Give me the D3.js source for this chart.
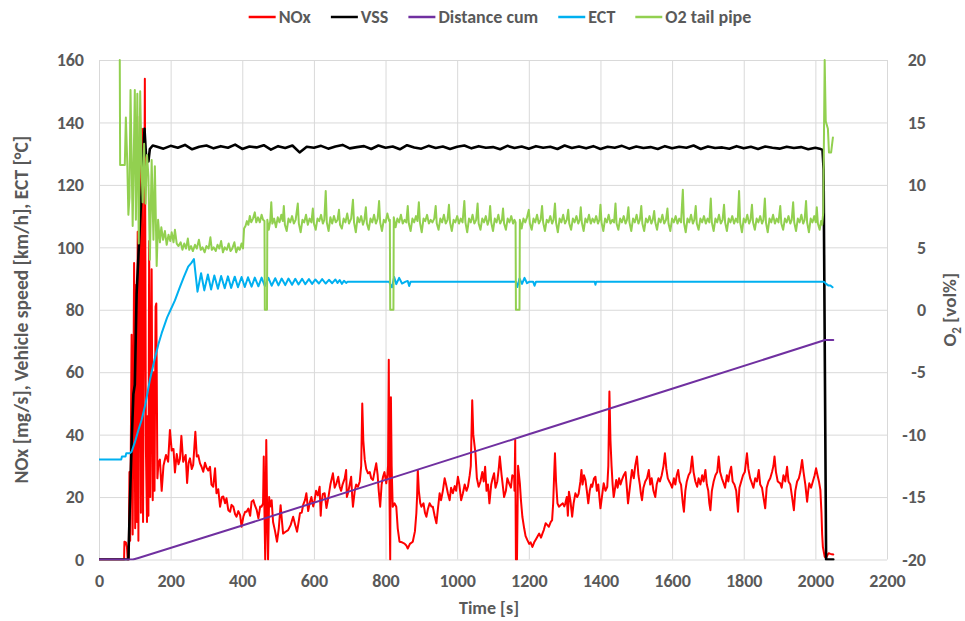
<!DOCTYPE html>
<html>
<head>
<meta charset="utf-8">
<script src="https://cdn.jsdelivr.net/npm/d3@7"></script>
<style>
  body { margin: 0; background: #fff; }
  svg text { font-family: Carlito, Lato, "Liberation Sans", sans-serif; fill: #595959; }
  .tick text { font-weight: bold; font-size: 18px; }
  .grid line { stroke: #d9d9d9; stroke-width: 1; }
  .grid .domain { display: none; }
  .series { fill: none; stroke-linejoin: round; stroke-linecap: round; }
</style>
</head>
<body>
<div id="chart"></div>
<script>
`use strict`;

// tick labels
const xTicks = [0, 200, 400, 600, 800, 1000, 1200, 1400, 1600, 1800, 2000, 2200];
const leftTicks = [0, 20, 40, 60, 80, 100, 120, 140, 160];
const rightTicks = [-20, -15, -10, -5, 0, 5, 10, 15, 20];

// series names / colours (legend order)
const seriesNames = ['NOx', 'VSS', 'Distance cum', 'ECT', 'O2 tail pipe'];
const seriesColors = ['#ff0000', '#000000', '#7030a0', '#00b0f0', '#92d050'];

// NOx [mg/s]  -- [time s, value]
const nox = [
  [0,0],[70,0],[71,5.7],[75,5.5],[78,4],[80,0],[83,0],
  [85,28],[87,6],[91,72],[94,8],[98,95],[101,10],[104,88],[106,12],[108,105],[110,6],[114,142],[117,15],[120,138],[123,12],[128,154],[131,35],[134,12],[136,46],[138,14],[140,102],[143,20],[147,93],[150,19],[153,60],[155,22],[158,81],[160,82],[163,26],[166,31],
  [170,32],[175,22],[180,30],[187,33.5],[193,31.3],[198,41.5],[203,34.9],[208,35.4],[212,27.9],[217,33.8],[222,30.5],[226,32.2],[230,39.6],[235,31.3],[242,33.5],[246,24.5],[250,31],[254,32.4],[259,29],[263,30.3],[269,40.9],[273,33],[277,33.4],[282,30.8],[286,29.8],[291,28.1],[296,31],[300,29.5],[305,28.5],[310,29.7],[314,24],[319,23.3],[324,29.2],[328,21.2],[333,22.5],[338,16.9],[343,20],[347,20.2],[352,18],[356,19.6],[361,15.8],[366,15.3],[370,17.5],[375,16.9],[380,14.5],[384,13.7],[389,15.5],[394,14.2],[398,10.5],[403,13.7],[408,15.3],[412,15.3],[417,16.3],[422,14],[426,18.5],[431,19],[435,17.4],[440,16],[445,13.2],[450,17],[454,16.9],[458,18],[460,33],[462,15],[464,0],[467,38.3],[470,10],[472,0],[475,20],[478,17],[482,19],[486,12],[491,9.4],[497,5.7],[502,10],[507,17.4],[511,12],[514,8.3],[520,8.8],[528,9.4],[535,11],[542,13.7],[548,11],[553,8.9],[558,12.5],[561,14.8],[566,15],[570,17.5],[575,19],[579,21.2],[584,15.5],[588,18],[593,20],[598,17],[602,19],[606,22],[611,20.5],[616,23.3],[619,14],[621,18],[625,21],[630,21.2],[635,16.5],[640,19.6],[646,24],[650,26],[653,27.6],[658,23],[663,24.4],[668,26.5],[672,23.3],[676,22],[680,24],[686,26],[690,28.7],[692,20],[695,21.2],[700,24],[704,26.5],[707,20],[709,16.9],[714,22],[718,24],[723,23.3],[728,25],[732,30],[735,50],[738,38],[742,31.9],[746,29],[751,27.6],[756,28],[760,26],[765,25.5],[769,28],[774,30.8],[778,27],[781,22],[785,16.9],[789,24],[793,26.5],[797,28],[802,24.4],[805,27],[807,30],[809,64],[811,20],[813,0],[815,52],[817,30],[820,16.9],[825,18],[830,16.9],[834,10],[839,5.7],[846,5.5],[853,5.1],[858,4.5],[862,3.5],[868,5],[876,5.7],[882,9],[886,14.8],[888,20],[890,28.7],[893,22],[897,18],[900,16.9],[906,18],[910,15],[914,13.7],[918,16],[923,18],[928,17],[932,16.9],[937,14],[942,11.6],[946,16],[951,21.2],[955,19],[960,22],[965,26],[969,24],[974,21.2],[979,19],[983,23],[988,21.2],[993,23.5],[997,22],[1002,26.5],[1006,24],[1011,19],[1016,21.2],[1021,24],[1026,22],[1030,23.3],[1035,27],[1038,30],[1042,51],[1045,40],[1051,34],[1055,26],[1060,23.3],[1065,25],[1070,28],[1074,25],[1078,29.7],[1082,22],[1086,24],[1090,18],[1095,24],[1099,26],[1103,27.6],[1107,23],[1112,25],[1116,29],[1119,33],[1124,27],[1128,23],[1131,20],[1136,22],[1140,26],[1145,24.4],[1150,23],[1154,27],[1159,26.5],[1160,22],[1162,38.3],[1164,0],[1167,0],[1170,30],[1175,24.4],[1178,19],[1182,13.7],[1187,10],[1191,7.5],[1196,6.2],[1201,5],[1205,5.5],[1210,4],[1215,5.5],[1220,6.5],[1225,7.5],[1229,8.3],[1234,7],[1238,8.3],[1242,9.5],[1247,11.6],[1252,11],[1256,10.5],[1261,12],[1265,12.6],[1268,18],[1271,28],[1273,34],[1276,25],[1280,18],[1284,16.9],[1290,17.5],[1295,18],[1299,17],[1302,18],[1306,20],[1309,14],[1312,21.7],[1316,19],[1321,13.7],[1325,18],[1330,21.2],[1335,20],[1339,21],[1344,25],[1347,28.7],[1350,24],[1354,27],[1358,25.5],[1362,22],[1366,18],[1370,22],[1374,24],[1377,23.3],[1382,26],[1386,26.5],[1390,22],[1394,24],[1397,20],[1400,16.4],[1404,20],[1409,24.4],[1414,22],[1419,23.3],[1422,30],[1425,53.8],[1428,38],[1431,30],[1434,24],[1437,20],[1441,23],[1444,25.5],[1448,23],[1452,26],[1456,24],[1460,25.5],[1465,27],[1470,28],[1473,24],[1477,18],[1481,22],[1485,26],[1488,28.7],[1493,26],[1497,30],[1502,33],[1506,27],[1510,24],[1513,21],[1516,19],[1520,23],[1525,25],[1530,26],[1535,28.7],[1539,24],[1543,26],[1548,22],[1553,20],[1557,24],[1562,26],[1566,25],[1571,27],[1576,30],[1580,34],[1584,29],[1588,26],[1592,25],[1595,24.4],[1600,23],[1605,26],[1609,24],[1613,27],[1617,28.7],[1621,25],[1625,24],[1630,18],[1633,15.3],[1637,22],[1641,25],[1646,27],[1651,28],[1656,33],[1660,28],[1665,25],[1670,23.3],[1674,26],[1679,24],[1684,27],[1688,25],[1693,28.7],[1697,24],[1701,22],[1704,18],[1707,15.8],[1711,22],[1716,25],[1721,27],[1726,28],[1730,33],[1734,28],[1739,26],[1744,24.4],[1748,23],[1753,27],[1757,25],[1761,28],[1765,29.7],[1769,25],[1774,24],[1779,22],[1782,18],[1784,15.3],[1788,23],[1793,25],[1798,27],[1803,28],[1809,34],[1813,29],[1818,26],[1823,24.4],[1827,23],[1832,26],[1837,25],[1842,28.7],[1846,24],[1851,23],[1855,20],[1860,16.4],[1864,23],[1869,25],[1874,26],[1879,28],[1883,30],[1886,33],[1890,28],[1895,25],[1902,24.4],[1906,23],[1911,27],[1916,25],[1921,29.7],[1925,25],[1930,24],[1935,20],[1940,15.8],[1944,22],[1949,25],[1954,26],[1958,28],[1963,31.9],[1967,28],[1972,24],[1977,18.5],[1980,22],[1983,24.4],[1988,23],[1993,25],[1998,27],[2002,29.2],[2006,27],[2010,25],[2014,22.3],[2017,15],[2019,8],[2021,4],[2026,0.9],[2030,0.5],[2034,1.5],[2037,2],[2042,1.8],[2046,1.7],[2050,1.6]
];

// VSS [km/h] -- ramp up, cruise (sampled every 20 s from 160 s), stop
const vssRamp = [[0,0],[82,0],[87,21],[91,37],[96,53],[100,56],[105,85],[112,102],[122,125],[127,138],[131,130],[138,127.5],[142,131.5],[150,132.6]];
const vssCruiseStart = 160, vssCruiseStep = 20;
const vssCruise = [
  132.3,131.6,132.5,131.9,132.8,131.4,132.2,132.6,131.7,132.4,
  131.9,132.9,131.5,132.3,132.0,132.7,131.3,132.4,131.8,132.6,
  130.4,132.2,131.9,132.5,131.6,132.3,132.8,131.7,132.1,132.4,
  131.5,132.6,131.9,132.3,131.4,132.7,132.0,131.6,132.5,131.8,
  132.3,131.5,132.2,132.6,131.7,132.4,131.9,132.1,131.4,132.5,
  131.8,132.3,131.6,132.4,131.9,132.2,131.5,132.6,131.8,132.3,
  131.7,132.4,131.5,132.2,131.9,132.5,131.6,132.3,131.8,132.1,
  131.5,132.4,131.7,132.2,131.9,132.6,131.5,132.3,131.8,132.0,
  131.6,132.4,131.7,132.2,131.5,132.3,131.9,131.6,132.2,131.8,
  132.1,131.4,131.9
];
const vssStop = [[2012,131.6],[2020,131.2],[2023,125],[2030,0],[2050,0]];

// Distance cum (plotted on left axis)
const dist = [[0,0],[95,0],[110,0.5],[400,10.9],[800,25.5],[1200,40.1],[1600,54.7],[2027,70.3],[2050,70.3]];

// ECT [°C]
const ect = [
  [0,32],[62,32],[64,33],[74,33],[76,34],[86,34],[91,34.5],[100,37.5],[110,41.5],[119,44.7],[130,50],[142,57.5],[155,64],[166,69],[175,72.5],[190,77.5],[200,80],[212,83],[225,87],[237,90.5],[249,93.8],[258,95],[265,96.2],
  [275,85.8],[285,91.7],[294,86.2],[304,91.3],[313,86.5],[322,91.0],[332,86.7],[341,90.8],[351,86.9],[360,90.7],[369,87.0],[379,90.6],[388,87.2],[398,90.5],[407,87.3],[416,90.4],[426,87.4],[435,90.3],[445,87.5],[454,90.3],[463,87.6],[473,90.2],[482,87.7],[492,90.1],[501,87.8],[510,90.0],[520,87.9],[529,90.0],[539,88.0],[548,89.9],[557,88.1],[567,89.9],[576,88.2],[586,89.8],[595,88.3],[604,89.7],[614,88.4],[623,89.8],[633,88.4],[642,89.6],[651,88.5],[660,89.7],[666,88.6],[672,89.5],[678,88.3],[684,89.3],[690,88.6],[694,89.0],
  [810,89],[813,88.2],[818,87.2],[824,90.5],[830,88.2],[838,90.2],[846,88.4],[856,89],[862,89.2],[866,87.6],[870,89],
  [1164,89],[1168,87.3],[1174,90],[1181,88.3],[1188,90.2],[1195,88.5],[1202,89],[1212,89],[1216,87.7],[1220,89],
  [1384,89],[1386,88],[1388,89],[2024,89],[2030,88.3],[2036,87.8],[2042,87.8],[2048,87.2]
];

// O2 tail pipe [vol%] (right axis)
const o2 = [
  [58,20],[59,11.6],[72,11.6],[75,15.4],[79,11.7],[82,7.6],[85,9.0],[88,17.6],[94,6.7],[100,17.6],[103,7.2],[107,17.3],[111,5.3],[115,17.5],[119,11.2],[122,8.6],[126,13.3],[130,8.5],[134,12.4],[138,10.7],[142,4.0],[147,12.0],[152,5.6],[156,11.5],[161,3.5],[165,7.2],[170,5.4],[174,6.6],[179,5.6],[184,6.3],[189,5.2],[194,6.0],[199,5.5],[203,6.2],[208,5.4],[212,6.4],[217,5.3],[222,5.1],[228,5.4],[233,4.8],[238,5.3],[243,4.9],[248,5.7],[252,4.8],[257,5.1],[262,4.7],[268,5.2],[273,4.9],[279,5.6],[284,4.8],[289,5.0],[295,4.6],[300,5.1],[306,4.9],[311,5.8],[315,4.8],[320,5.0],[326,4.7],[331,5.2],[336,4.9],[341,5.5],[346,4.6],[351,5.0],[357,4.8],[362,5.3],[367,4.7],[372,4.9],[378,5.4],[383,4.6],[388,5.0],[393,4.8],[398,5.3],[402,4.9],
  [405,6.5],[409,6.7],[413,7.1],[417,6.8],[421,7.5],[425,7.0],[430,7.3],[435,7.8],[439,7.0],[444,7.4],[449,7.0],[454,7.6],[458,7.2],[462,7.1],[463,0],[469,0],[470,7.2],[474,6.4],[478,7.1],[481,8.6],[484,6.9],[489,7.3],[494,6.6],[499,7.4],[504,7.0],[509,7.6],[513,7.1],[516,8.3],[519,6.8],[524,6.3],[529,7.3],[534,7.0],[539,7.5],[544,6.9],[549,7.2],[555,8.5],[558,6.9],[563,6.2],[568,7.2],[573,7.0],[578,7.6],[583,6.8],[588,7.3],[593,7.0],[597,8.1],[600,6.9],[605,6.4],[610,7.3],[615,7.1],[620,7.6],[625,6.9],[629,7.2],[633,9.5],[636,7.0],[641,6.3],[646,7.4],[651,6.9],[656,7.5],[661,7.0],[666,7.2],[670,8.0],[673,6.8],[678,6.5],[683,7.3],[688,7.0],[693,7.7],[698,6.9],[704,7.3],[709,8.8],[712,7.0],[717,6.2],[722,7.4],[727,7.0],[732,7.5],[737,6.8],[741,7.2],[745,8.2],[748,6.9],[753,6.4],[758,7.3],[763,7.0],[768,7.6],[773,6.9],[778,7.3],[782,8.7],[785,7.0],[790,6.3],[795,7.2],[800,7.0],[805,7.7],[810,7.1],[812,7.2],[813,0],[822,0],[823,7.4],[828,6.6],[833,7.3],[838,7.0],[843,7.6],[848,6.9],[853,7.2],[858,7.0],[862,8.3],[865,6.9],[870,6.3],[875,7.3],[880,7.0],[885,7.5],[889,7.1],[893,8.6],[896,7.0],[901,6.2],[906,7.3],[911,7.1],[916,7.6],[921,6.9],[926,7.2],[931,7.0],[936,7.3],[940,8.3],[943,6.9],[948,6.4],[953,7.3],[958,7.0],[963,7.6],[968,6.9],[973,7.2],[977,8.4],[980,7.0],[985,6.3],[990,7.2],[995,7.0],[1000,7.5],[1005,6.9],[1010,7.3],[1015,7.0],[1020,8.7],[1023,7.0],[1028,6.2],[1033,7.3],[1038,7.0],[1043,7.6],[1048,6.9],[1053,7.2],[1057,8.5],[1060,6.9],[1065,6.4],[1070,7.3],[1075,7.0],[1080,7.5],[1085,6.8],[1089,7.2],[1092,8.3],[1095,7.0],[1100,6.3],[1105,7.3],[1110,7.0],[1115,7.6],[1120,6.9],[1125,7.2],[1128,8.1],[1131,6.9],[1136,6.4],[1141,7.3],[1146,7.0],[1151,7.5],[1156,6.9],[1160,7.2],[1163,7.0],[1164,0],[1174,0],[1175,7.2],[1180,6.5],[1185,7.3],[1190,7.0],[1195,7.4],[1200,8.0],[1203,6.9],[1208,6.4],[1213,7.3],[1218,7.0],[1223,7.6],[1228,6.9],[1233,7.2],[1237,8.3],[1240,7.0],[1245,6.3],[1250,7.2],[1255,7.0],[1260,7.5],[1265,6.9],[1269,7.2],[1273,8.5],[1276,7.0],[1281,6.2],[1286,7.3],[1291,7.0],[1296,7.6],[1301,6.9],[1306,7.2],[1310,8.0],[1313,6.9],[1318,6.4],[1323,7.3],[1328,7.0],[1333,7.5],[1338,6.9],[1342,7.2],[1345,8.2],[1348,7.0],[1353,6.3],[1358,7.3],[1363,7.0],[1368,7.6],[1373,6.9],[1378,7.3],[1383,7.0],[1388,7.5],[1393,6.9],[1397,7.2],[1400,8.4],[1403,7.0],[1408,6.3],[1413,7.3],[1418,7.0],[1423,7.6],[1428,6.9],[1433,7.2],[1438,7.0],[1442,8.5],[1445,6.9],[1450,6.4],[1455,7.3],[1460,7.0],[1465,7.5],[1470,6.9],[1474,7.2],[1478,8.2],[1481,7.0],[1486,6.3],[1491,7.3],[1496,7.0],[1501,7.6],[1506,6.9],[1510,7.2],[1514,8.3],[1517,6.9],[1522,6.3],[1527,7.3],[1532,7.0],[1537,7.5],[1542,6.9],[1546,7.2],[1550,7.9],[1553,7.0],[1558,6.4],[1563,7.3],[1568,7.0],[1573,7.6],[1578,6.9],[1583,7.2],[1587,8.1],[1590,6.9],[1595,6.3],[1600,7.3],[1605,7.0],[1610,7.5],[1615,6.9],[1620,7.3],[1625,7.0],[1630,9.6],[1633,7.0],[1638,6.2],[1643,7.3],[1648,7.0],[1653,7.6],[1658,6.9],[1662,7.2],[1666,8.3],[1669,6.9],[1674,6.4],[1679,7.3],[1684,7.0],[1689,7.5],[1694,6.9],[1699,7.3],[1704,7.0],[1708,8.9],[1711,7.0],[1716,6.3],[1721,7.3],[1726,7.0],[1731,7.6],[1736,6.9],[1741,7.2],[1745,8.4],[1748,7.0],[1753,6.3],[1758,7.3],[1763,7.0],[1768,7.5],[1773,6.9],[1778,7.3],[1783,7.0],[1787,9.5],[1790,7.0],[1795,6.2],[1800,7.3],[1805,7.0],[1810,7.6],[1815,6.9],[1819,7.2],[1823,8.4],[1826,7.0],[1831,6.4],[1836,7.3],[1841,7.0],[1846,7.5],[1851,6.9],[1855,7.2],[1859,8.9],[1862,7.0],[1867,6.2],[1872,7.3],[1877,7.0],[1882,7.6],[1887,6.9],[1892,7.3],[1897,7.0],[1902,8.3],[1905,6.9],[1910,6.4],[1915,7.3],[1920,7.0],[1925,7.5],[1930,6.9],[1934,7.2],[1938,8.6],[1941,7.0],[1946,6.3],[1951,7.3],[1956,7.0],[1961,7.6],[1966,6.9],[1970,7.2],[1974,8.7],[1977,7.0],[1982,6.2],[1987,7.3],[1992,7.0],[1997,7.5],[2001,7.0],[2004,8.2],[2007,6.9],[2012,6.4],[2016,7.1],[2019,6.8],[2022,7.8],[2026,20],[2029,15.1],[2035,14.5],[2038,12.6],[2044,12.6],[2049,13.8]
];

let w = 965, h = 621;
let margin = {top: 60, right: 78, bottom: 61.5, left: 99};

let svg = d3.select('#chart').append('svg')
    .attr('width', w).attr('height', h);

let x = d3.scaleLinear().domain([0, 2200]).range([margin.left, w - margin.right]);
let yL = d3.scaleLinear().domain([0, 160]).range([h - margin.bottom, margin.top]);
let yR = d3.scaleLinear().domain([-20, 20]).range([h - margin.bottom, margin.top]);
let plain = (d) => String(d);

//gridlines
svg.append('g').classed('grid', true)
    .attr('transform', `translate(${margin.left},0)`)
    .call(d3.axisLeft(yL).tickValues(leftTicks).tickSize(-(w - margin.left - margin.right)).tickFormat(''));
svg.append('g').classed('grid', true)
    .attr('transform', `translate(0,${h - margin.bottom})`)
    .call(d3.axisBottom(x).tickValues(xTicks).tickSize(-(h - margin.top - margin.bottom)).tickFormat(''));

//axis labels
let axisText = (g) => { g.select('.domain').remove(); g.selectAll('.tick line').remove(); };
svg.append('g')
    .attr('transform', `translate(${margin.left},0)`)
    .call(d3.axisLeft(yL).tickValues(leftTicks).tickFormat(plain).tickSize(0).tickPadding(15))
    .call(axisText);
svg.append('g')
    .attr('transform', `translate(${w - margin.right},0)`)
    .call(d3.axisRight(yR).tickValues(rightTicks).tickFormat(plain).tickSize(0))
    .call(axisText)
    .selectAll('.tick text').attr('x', 39).attr('text-anchor', 'end');
svg.append('g')
    .attr('transform', `translate(0,${h - margin.bottom})`)
    .call(d3.axisBottom(x).tickValues(xTicks).tickFormat(plain).tickSize(0).tickPadding(15))
    .call(axisText);

//axis titles
svg.append('text')
    .attr('transform', `translate(28,${yL(80)}) rotate(-90)`)
    .attr('text-anchor', 'middle')
    .style('font-size', '19.5px').style('font-weight', 'bold')
    .text('NOx [mg/s], Vehicle speed [km/h], ECT [°C]');
let o2Title = svg.append('text')
    .attr('transform', `translate(956,${yR(0)}) rotate(-90)`)
    .attr('text-anchor', 'middle')
    .style('font-size', '19px').style('font-weight', 'bold');
o2Title.append('tspan').text('O');
o2Title.append('tspan').attr('dy', 5).style('font-size', '13px').text('2');
o2Title.append('tspan').attr('dy', -5).text(' [vol%]');
svg.append('text')
    .attr('x', 489).attr('y', 614)
    .attr('text-anchor', 'middle')
    .style('font-size', '18px').style('font-weight', 'bold')
    .text('Time [s]');

//series
svg.append('clipPath').attr('id', 'plot-clip')
    .append('rect')
    .attr('x', margin.left).attr('y', margin.top - 1)
    .attr('width', w - margin.left - margin.right)
    .attr('height', h - margin.top - margin.bottom + 2);

let plot = svg.append('g').attr('clip-path', 'url(#plot-clip)');

let lineL = d3.line().x((d) => x(d[0])).y((d) => yL(d[1]));
let lineR = d3.line().x((d) => x(d[0])).y((d) => yR(d[1]));

let vss = vssRamp
    .concat(vssCruise.map((v, i) => [vssCruiseStart + i * vssCruiseStep, v]))
    .concat(vssStop);

let series = [
    {data: nox, line: lineL, width: 2},
    {data: vss, line: lineL, width: 2.6},
    {data: dist, line: lineL, width: 2},
    {data: ect, line: lineL, width: 2},
    {data: o2, line: lineR, width: 2}
];

series.forEach((s, i) => {
    plot.append('path')
        .datum(s.data)
        .classed('series', true)
        .attr('stroke', seriesColors[i])
        .attr('stroke-width', s.width)
        .attr('d', s.line);
});

//legend
let legend = svg.append('g');
let cursor = 0;
seriesNames.forEach((name, i) => {
    let item = legend.append('g').attr('transform', `translate(${cursor},0)`);
    item.append('line')
        .attr('x1', 0).attr('x2', 27).attr('y1', 0).attr('y2', 0)
        .attr('stroke', seriesColors[i]).attr('stroke-width', 2.5);
    let t = item.append('text')
        .attr('x', 30).attr('y', 6)
        .style('font-size', '18px').style('font-weight', 'bold')
        .text(name);
    cursor += 30 + t.node().getComputedTextLength() + 20;
});
cursor -= 20;
legend.attr('transform', `translate(${500 - cursor / 2},17)`);
</script>
</body>
</html>
